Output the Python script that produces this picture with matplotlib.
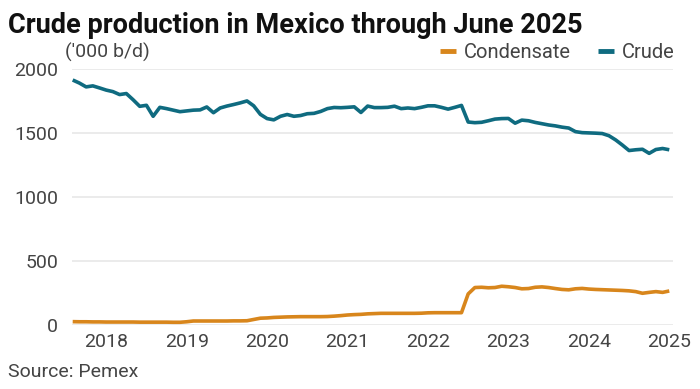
import matplotlib
matplotlib.use("Agg")
import matplotlib.pyplot as plt
from matplotlib.lines import Line2D

# Monthly data, Jan 2018 .. Jun 2025 ('000 b/d)
crude = [1914, 1890, 1860, 1868, 1852, 1835, 1823, 1800, 1808, 1760,
         1708, 1716, 1630, 1700, 1690, 1678, 1666, 1672, 1678, 1680,
         1703, 1658, 1695, 1710, 1722, 1735, 1750, 1712, 1645, 1612,
         1602, 1630, 1644, 1630, 1636, 1650, 1653, 1668, 1690, 1699,
         1697, 1700, 1704, 1660, 1710, 1698, 1698, 1700, 1709, 1690,
         1695, 1690, 1700, 1712, 1712, 1700, 1686, 1700, 1715, 1585,
         1580, 1583, 1595, 1608, 1612, 1613, 1576, 1600, 1595, 1582,
         1572, 1562, 1555, 1545, 1538, 1510, 1502, 1500, 1498, 1495,
         1478, 1445, 1405, 1362, 1368, 1372, 1340, 1370, 1378, 1368]
condensate = [23, 22, 22, 21, 21, 20, 20, 20, 20, 20,
              19, 19, 19, 19, 19, 18, 18, 22, 28, 28,
              28, 28, 28, 28, 29, 29, 30, 40, 50, 52,
              56, 58, 60, 61, 62, 62, 62, 62, 63, 66,
              70, 75, 78, 80, 84, 86, 88, 88, 88, 88,
              88, 88, 89, 92, 93, 93, 93, 93, 93, 240,
              290, 292, 288, 290, 300, 296, 290, 280, 282, 292,
              295, 290, 282, 275, 272, 280, 283, 278, 275, 273,
              271, 269, 267, 264, 258, 245, 252, 258, 252, 263]
years = ["2018", "2019", "2020", "2021", "2022", "2023", "2024", "2025"]
yticks = [0, 500, 1000, 1500, 2000]

crude_color = "#0f6b80"
cond_color = "#d8861c"

plt.rcParams['font.family'] = ['Roboto', 'DejaVu Sans']

fig = plt.figure(figsize=(7.0, 3.89), dpi=100)
ax = fig.add_axes([0.1029, 0.1656, 0.858, 0.657])

months = list(range(len(crude)))
ax.plot(months, condensate, color=cond_color, lw=2.6, solid_capstyle='butt', clip_on=False, zorder=3)
ax.plot(months, crude, color=crude_color, lw=2.6, solid_capstyle='butt', clip_on=False, zorder=3)

ax.set_xlim(-0.1, 89.5)
ax.set_ylim(0, 2000)
ax.set_yticks(yticks)
ax.set_yticklabels([str(v) for v in yticks])
tick_pos = [5 + 12 * i for i in range(len(years))]
ax.set_xticks(tick_pos)
ax.set_xticklabels(years)
ax.grid(axis='y', color='#e8e8e8', lw=1.2)
ax.set_axisbelow(True)
for s in ax.spines.values():
    s.set_visible(False)
ax.tick_params(axis='both', length=0, labelsize=14, colors='#444444')
ax.tick_params(axis='y', pad=10)
ax.tick_params(axis='x', pad=6)

fig.text(0.011, 0.935, "Crude production in Mexico through June 2025",
         fontsize=19.5, fontweight='bold', color='#111111', va='center', ha='left')
fig.text(0.093, 0.865, "('000 b/d)", fontsize=14, color='#444444', va='center', ha='left')
fig.text(0.011, 0.043, "Source: Pemex", fontsize=14, color='#444444', va='center', ha='left')

handles = [Line2D([], [], color=cond_color, lw=3.5, solid_capstyle='butt'),
           Line2D([], [], color=crude_color, lw=3.5, solid_capstyle='butt')]
leg = fig.legend(handles, ["Condensate", "Crude"], ncol=2, frameon=False,
                 loc='center right', bbox_to_anchor=(0.975, 0.865),
                 fontsize=14.5, handlelength=0.8, handletextpad=0.4,
                 columnspacing=1.3, labelcolor='#444444', borderaxespad=0)

fig.savefig("out.png", dpi=100)
